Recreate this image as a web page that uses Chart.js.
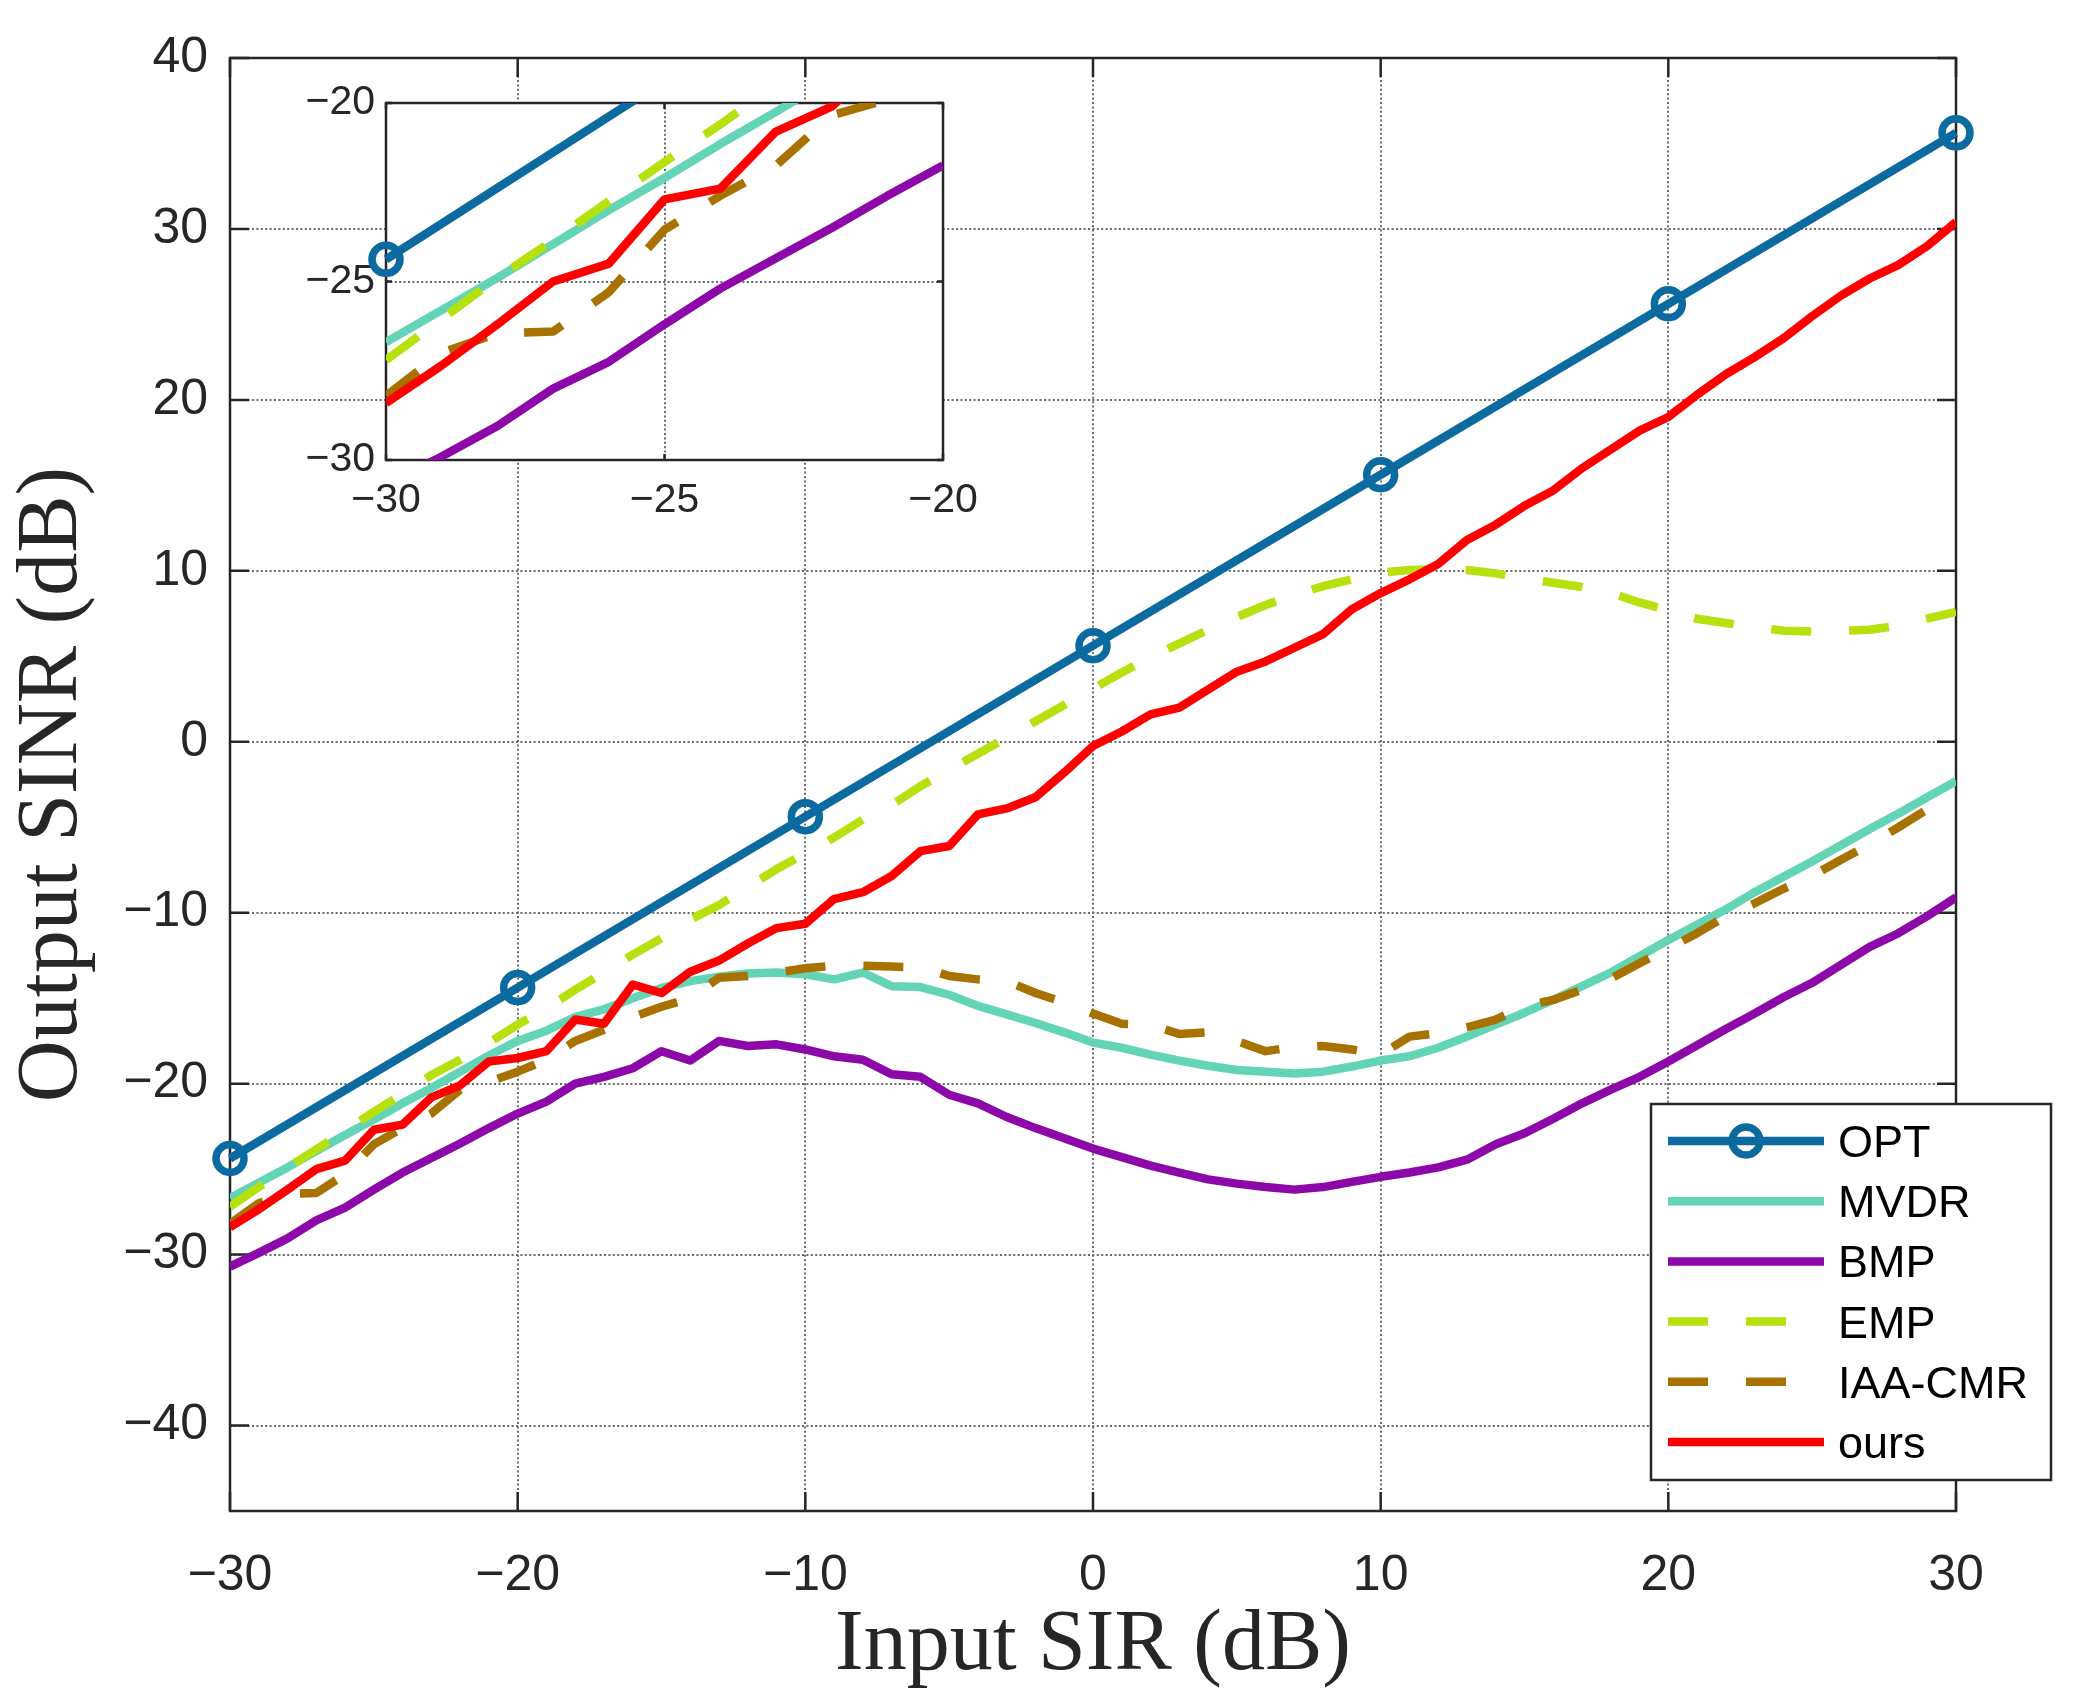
<!DOCTYPE html>
<html>
<head>
<meta charset="utf-8">
<script src="https://cdn.jsdelivr.net/npm/chart.js@4.4.0/dist/chart.umd.min.js"></script>
<style>
  body { margin: 0; background: #fff; }
  #wrap { position: relative; width: 2073px; height: 1700px; }
  #main { position: absolute; left: 0; top: 0; }
  #inset { position: absolute; left: 276px; top: 63px; }
</style>
</head>
<body>
<div id="wrap">
  <canvas id="main" width="2073" height="1700"></canvas>
  <canvas id="inset" width="747" height="477"></canvas>
</div>
<script>
// Input SIR (dB), one sample per dB
const sir = [-30, -29, -28, -27, -26, -25, -24, -23, -22, -21, -20, -19, -18, -17, -16, -15, -14, -13, -12, -11,
  -10, -9, -8, -7, -6, -5, -4, -3, -2, -1, 0, 1, 2, 3, 4, 5, 6, 7, 8, 9,
  10, 11, 12, 13, 14, 15, 16, 17, 18, 19, 20, 21, 22, 23, 24, 25, 26, 27, 28, 29, 30];

// OPT is only sampled at the marker positions
const optSir = [-30, -20, -10, 0, 10, 20, 30];
const opt = [-24.38, -14.38, -4.38, 5.62, 15.62, 25.62, 35.62];

const mvdr = [-26.7, -25.8, -24.9, -23.95, -23.0, -22.1, -21.15, -20.25, -19.3, -18.35,
  -17.5, -16.9, -16.1, -15.65, -15.0, -14.4, -14.0, -13.75, -13.55, -13.5,
  -13.6, -13.9, -13.5, -14.3, -14.35, -14.8, -15.45, -15.95, -16.45, -17.0,
  -17.6, -17.9, -18.3, -18.65, -18.95, -19.2, -19.3, -19.4, -19.3, -19.0,
  -18.65, -18.4, -17.9, -17.25, -16.55, -15.85, -15.1, -14.3, -13.5, -12.55,
  -11.6, -10.7, -9.8, -8.8, -7.9, -7.0, -6.05, -5.1, -4.2, -3.25, -2.3];

const bmp = [-30.7, -29.9, -29.05, -28.0, -27.25, -26.2, -25.2, -24.35, -23.5, -22.6,
  -21.75, -21.05, -20.0, -19.6, -19.1, -18.1, -18.65, -17.5, -17.8, -17.7,
  -18.0, -18.4, -18.6, -19.45, -19.6, -20.65, -21.15, -21.95, -22.6, -23.2,
  -23.8, -24.3, -24.8, -25.2, -25.6, -25.85, -26.05, -26.2, -26.05, -25.75,
  -25.45, -25.2, -24.9, -24.45, -23.55, -22.9, -22.05, -21.15, -20.35, -19.6,
  -18.7, -17.75, -16.8, -15.9, -14.95, -14.1, -13.05, -12.0, -11.2, -10.2, -9.1];

const emp = [-27.2, -26.05, -24.9, -23.85, -22.75, -21.65, -20.6, -19.5, -18.6, -17.6,
  -16.55, -15.6, -14.5, -13.5, -12.45, -11.5, -10.4, -9.55, -8.5, -7.45,
  -6.55, -5.6, -4.55, -3.7, -2.6, -1.65, -0.7, 0.25, 1.2, 2.15,
  3.1, 4.05, 4.95, 5.75, 6.55, 7.3, 8.0, 8.6, 9.1, 9.5,
  9.9, 10.05, 10.1, 10.05, 9.85, 9.55, 9.3, 9.05, 8.7, 8.15,
  7.7, 7.2, 6.95, 6.7, 6.5, 6.45, 6.5, 6.55, 6.8, 7.2, 7.6];

const iaaCmr = [-28.2, -27.0, -26.45, -26.4, -25.3, -23.55, -22.6, -21.75, -20.35, -19.9,
  -19.3, -18.6, -17.5, -16.85, -16.1, -15.5, -15.0, -13.8, -13.7, -13.5,
  -13.25, -13.1, -13.1, -13.15, -13.2, -13.7, -13.9, -14.0, -14.7, -15.25,
  -15.9, -16.5, -16.55, -17.1, -17.0, -17.5, -18.1, -17.85, -17.8, -18.0,
  -18.3, -17.25, -17.05, -16.7, -16.25, -15.45, -15.1, -14.5, -13.85, -12.95,
  -12.1, -11.2, -10.2, -9.45, -8.6, -7.85, -6.9, -6.0, -5.0, -3.95, -2.9];

const ours = [-28.4, -27.35, -26.2, -25.0, -24.5, -22.7, -22.4, -20.8, -20.1, -18.7,
  -18.5, -18.1, -16.25, -16.5, -14.2, -14.7, -13.45, -12.8, -11.8, -10.9,
  -10.65, -9.2, -8.8, -7.85, -6.4, -6.1, -4.25, -3.9, -3.25, -1.8,
  -0.25, 0.6, 1.6, 2.0, 3.05, 4.1, 4.7, 5.5, 6.3, 7.75,
  8.7, 9.5, 10.4, 11.8, 12.7, 13.8, 14.7, 16.0, 17.1, 18.2,
  19.0, 20.3, 21.5, 22.5, 23.6, 24.9, 26.1, 27.1, 27.9, 29.0, 30.4];

const xTicks = [-30, -20, -10, 0, 10, 20, 30];
const yTicks = [-40, -30, -20, -10, 0, 10, 20, 30, 40];
const insetTicks = [-30, -25, -20];

const colors = {
  opt: '#0b6aa0',
  mvdr: '#63d4b5',
  bmp: '#8c08a8',
  emp: '#b7e00f',
  iaa: '#a87200',
  ours: '#ff0000'
};
const dashed = [40, 38];
const lineW = 8.5;

Chart.defaults.font.family = '"Liberation Sans", Arial, sans-serif';
Chart.defaults.color = '#262626';

function minusSign(v) {
  return String(v).replace('-', '\u2212');
}

function buildDatasets(inset) {
  const curve = (label, values, color, dash, order) => ({
    label,
    data: sir.map((x, i) => ({ x, y: values[i] })),
    borderColor: color,
    borderWidth: lineW,
    borderDash: dash,
    borderJoinStyle: 'round',
    pointRadius: 0,
    tension: 0,
    order,
    clip: inset ? 0 : undefined
  });
  return [
    {
      label: 'OPT',
      data: optSir.map((x, i) => ({ x, y: opt[i] })),
      borderColor: colors.opt,
      borderWidth: lineW,
      pointRadius: 14,
      pointBorderWidth: 7.5,
      pointBorderColor: colors.opt,
      pointBackgroundColor: 'rgba(0,0,0,0)',
      pointHoverRadius: 14,
      tension: 0,
      order: 6,
      clip: inset ? { left: 30, top: 0, right: 0, bottom: 0 } : false
    },
    curve('MVDR', mvdr, colors.mvdr, [], 5),
    curve('BMP', bmp, colors.bmp, [], 4),
    curve('EMP', emp, colors.emp, dashed, 3),
    curve('IAA-CMR', iaaCmr, colors.iaa, dashed, 2),
    curve('ours', ours, colors.ours, [], 1)
  ];
}

// box, inward ticks, optional white plot background
const matlabAxes = {
  id: 'matlabAxes',
  beforeDraw(chart, args, opts) {
    if (!opts.fill) return;
    const a = chart.chartArea;
    chart.ctx.save();
    chart.ctx.fillStyle = '#fff';
    chart.ctx.fillRect(a.left, a.top, a.right - a.left, a.bottom - a.top);
    chart.ctx.restore();
  },
  beforeDatasetsDraw(chart, args, opts) {
    const { ctx, chartArea: a, scales } = chart;
    ctx.save();
    ctx.strokeStyle = '#262626';
    ctx.lineWidth = opts.width;
    ctx.setLineDash([]);
    ctx.beginPath();
    scales.x.ticks.forEach(t => {
      const px = scales.x.getPixelForValue(t.value);
      ctx.moveTo(px, a.bottom); ctx.lineTo(px, a.bottom - opts.tick);
      ctx.moveTo(px, a.top); ctx.lineTo(px, a.top + opts.tick);
    });
    scales.y.ticks.forEach(t => {
      const py = scales.y.getPixelForValue(t.value);
      ctx.moveTo(a.left, py); ctx.lineTo(a.left + opts.tick, py);
      ctx.moveTo(a.right, py); ctx.lineTo(a.right - opts.tick, py);
    });
    ctx.stroke();
    ctx.strokeRect(a.left, a.top, a.right - a.left, a.bottom - a.top);
    ctx.restore();
  }
};

const axisTitles = {
  id: 'axisTitles',
  afterDraw(chart) {
    const { ctx, chartArea: a } = chart;
    ctx.save();
    ctx.fillStyle = '#262626';
    ctx.font = '86px "Liberation Serif", "Times New Roman", serif';
    ctx.textAlign = 'center';
    ctx.textBaseline = 'alphabetic';
    ctx.fillText('Input SIR (dB)', (a.left + a.right) / 2, 1669);
    ctx.translate(76, (a.top + a.bottom) / 2);
    ctx.rotate(-Math.PI / 2);
    ctx.fillText('Output SINR (dB)', 0, 0);
    ctx.restore();
  }
};

const boxLegend = {
  id: 'boxLegend',
  afterDraw(chart) {
    const ctx = chart.ctx;
    const left = 1651, top = 1104, width = 400, height = 376;
    const rowTop = 1141, rowStep = 60.2;
    ctx.save();
    ctx.fillStyle = '#fff';
    ctx.fillRect(left, top, width, height);
    ctx.strokeStyle = '#262626';
    ctx.lineWidth = 2.5;
    ctx.strokeRect(left, top, width, height);
    chart.data.datasets.forEach((ds, i) => {
      const y = rowTop + i * rowStep;
      ctx.strokeStyle = ds.borderColor;
      ctx.lineWidth = ds.borderWidth;
      ctx.setLineDash(ds.borderDash || []);
      ctx.beginPath();
      ctx.moveTo(1668, y);
      ctx.lineTo(1824, y);
      ctx.stroke();
      ctx.setLineDash([]);
      if (ds.pointRadius) {
        ctx.lineWidth = ds.pointBorderWidth;
        ctx.beginPath();
        ctx.arc(1746, y, ds.pointRadius, 0, Math.PI * 2);
        ctx.stroke();
      }
      ctx.fillStyle = '#000';
      ctx.font = '45px "Liberation Sans", Arial, sans-serif';
      ctx.textAlign = 'left';
      ctx.textBaseline = 'alphabetic';
      ctx.fillText(ds.label, 1838, y + 16);
    });
    ctx.restore();
  }
};

function axisOptions(min, max, ticks, fontSize, pad, fitSize, horizontal) {
  return {
    type: 'linear',
    min,
    max,
    afterBuildTicks: s => { s.ticks = ticks.map(v => ({ value: v })); },
    afterFit: s => { if (horizontal) s.height = fitSize; else s.width = fitSize; },
    ticks: {
      padding: pad,
      font: { size: fontSize },
      color: '#262626',
      maxRotation: 0,
      autoSkip: false,
      callback: v => minusSign(v)
    },
    grid: {
      color: '#6a6a6a',
      lineWidth: 2,
      drawTicks: false
    },
    border: { display: false, dash: [2, 2.4] }
  };
}

new Chart(document.getElementById('main'), {
  type: 'line',
  data: { datasets: buildDatasets(false) },
  options: {
    responsive: false,
    animation: false,
    devicePixelRatio: 1,
    layout: { padding: { top: 58, right: 117, left: 0, bottom: 0 } },
    plugins: {
      legend: { display: false },
      tooltip: { enabled: false },
      matlabAxes: { width: 2.5, tick: 19, fill: false }
    },
    scales: {
      x: axisOptions(-30, 30, xTicks, 50, 35, 189, true),
      y: axisOptions(-45, 40, yTicks, 50, 22, 230, false)
    }
  },
  plugins: [matlabAxes, axisTitles, boxLegend]
});

// inset plot area: x 386..943, y 103..460 in page pixels
new Chart(document.getElementById('inset'), {
  type: 'line',
  data: { datasets: buildDatasets(true) },
  options: {
    responsive: false,
    animation: false,
    devicePixelRatio: 1,
    layout: { padding: { top: 40, right: 80, left: 0, bottom: 0 } },
    plugins: {
      legend: { display: false },
      tooltip: { enabled: false },
      matlabAxes: { width: 2.5, tick: 6, fill: true }
    },
    scales: {
      x: axisOptions(-30, -20, insetTicks, 41, 16, 80, true),
      y: axisOptions(-30, -20, insetTicks, 41, 11, 110, false)
    }
  },
  plugins: [matlabAxes]
});
</script>
</body>
</html>
